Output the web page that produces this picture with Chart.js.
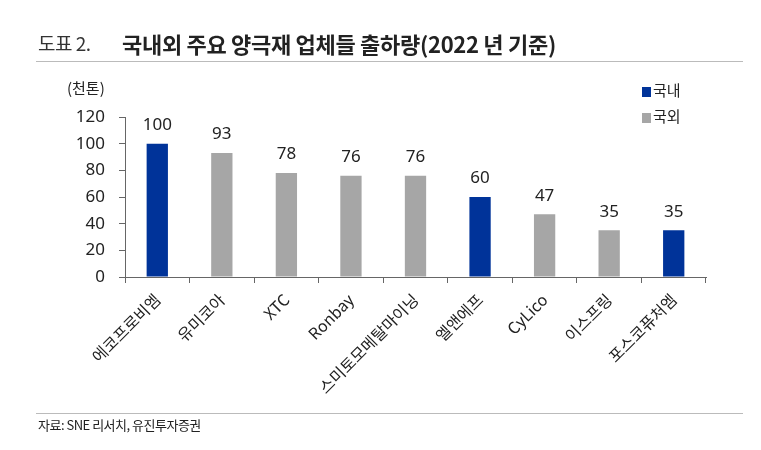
<!DOCTYPE html>
<html>
<head>
<meta charset="utf-8">
<script src="https://cdn.jsdelivr.net/npm/chart.js@4"></script>
<style>
  body { margin: 0; width: 761px; height: 450px; background: #fff; position: relative; overflow: hidden;
         font-family: "Noto Sans CJK KR", "Noto Sans", sans-serif; color: #222; }
  #wrap { position: absolute; left: 0; top: 0; width: 761px; height: 450px; }
  .title { position: absolute; top: 29px; left: 38px; font-size: 19px; white-space: nowrap; letter-spacing: -0.5px; }
  .title .no { font-weight: 400; color: #333; }
  .title .main { position: absolute; left: 84px; top: -2px; font-size: 22px; font-weight: 700; letter-spacing: -0.3px; }
  .rule { position: absolute; left: 36px; width: 707px; height: 1px; background: #bbb; }
  .unit { position: absolute; left: 67px; top: 77px; font-size: 15px; }
  .legend { position: absolute; left: 642px; font-size: 15px; }
  .legend span { display: inline-block; width: 9px; height: 10px; margin-right: 2px; vertical-align: -1px; }
  .source { position: absolute; left: 38px; top: 415px; font-size: 13px; letter-spacing: -0.5px; }
</style>
</head>
<body>
<div id="wrap"><canvas id="chart"></canvas></div>
<div class="title"><span class="no">도표 2.</span><span class="main">국내외 주요 양극재 업체들 출하량(2022 년 기준)</span></div>
<div class="rule" style="top:61px"></div>
<div class="unit">(천톤)</div>
<div class="legend" style="top:79px"><span style="background:#003399"></span>국내</div>
<div class="legend" style="top:105px"><span style="background:#a6a6a6"></span>국외</div>
<div class="rule" style="top:413px"></div>
<div class="source">자료: SNE 리서치, 유진투자증권</div>
<script>
const companies = ['에코프로비엠', '유미코아', 'XTC', 'Ronbay', '스미토모메탈마이닝', '엘앤에프', 'CyLico', '이스프링', '포스코퓨처엠'];
const shipments = [100, 93, 78, 76, 76, 60, 47, 35, 35];
const region = ['국내', '국외', '국외', '국외', '국외', '국내', '국외', '국외', '국내'];
const yTicks = [0, 20, 40, 60, 80, 100, 120];

const regionColor = { '국내': '#003399', '국외': '#a6a6a6' };

// 막대 위 값 표시
const valueLabels = {
    id: 'valueLabels',
    afterDatasetsDraw(chart) {
        const ctx = chart.ctx;
        const meta = chart.getDatasetMeta(0);
        ctx.save();
        ctx.font = '17px "Noto Sans", "DejaVu Sans", sans-serif';
        ctx.fillStyle = '#222';
        ctx.textAlign = 'center';
        ctx.textBaseline = 'bottom';
        meta.data.forEach((bar, i) => {
            ctx.fillText(shipments[i], bar.x, bar.y - 10);
        });
        ctx.restore();
    }
};

new Chart(document.getElementById('chart'), {
    type: 'bar',
    data: {
        labels: companies,
        datasets: [{
            data: shipments,
            backgroundColor: region.map(r => regionColor[r]),
            barPercentage: 0.33,
            categoryPercentage: 1
        }]
    },
    options: {
        responsive: true,
        maintainAspectRatio: false,
        animation: false,
        layout: { padding: { left: 0, right: 55, top: 117, bottom: 0 } },
        plugins: { legend: { display: false }, tooltip: { enabled: false } },
        scales: {
            x: {
                grid: { offset: true, drawOnChartArea: false, tickLength: 6, color: '#666' },
                border: { color: '#666' },
                ticks: {
                    minRotation: 45, maxRotation: 45, autoSkip: false,
                    color: '#222', padding: 7,
                    font: { size: 16, family: '"Noto Sans CJK KR", "Noto Sans", sans-serif' }
                },
                afterFit(scale) { scale.height = 173; }
            },
            y: {
                min: 0, max: 120,
                afterBuildTicks(scale) { scale.ticks = yTicks.map(v => ({ value: v })); },
                grid: { drawOnChartArea: false, tickLength: 6, color: '#666' },
                border: { color: '#666' },
                ticks: {
                    color: '#222', padding: 14,
                    font: { size: 17, family: '"Noto Sans", "DejaVu Sans", sans-serif' }
                },
                afterFit(scale) { scale.width = 125; }
            }
        }
    },
    plugins: [valueLabels]
});
</script>
</body>
</html>
